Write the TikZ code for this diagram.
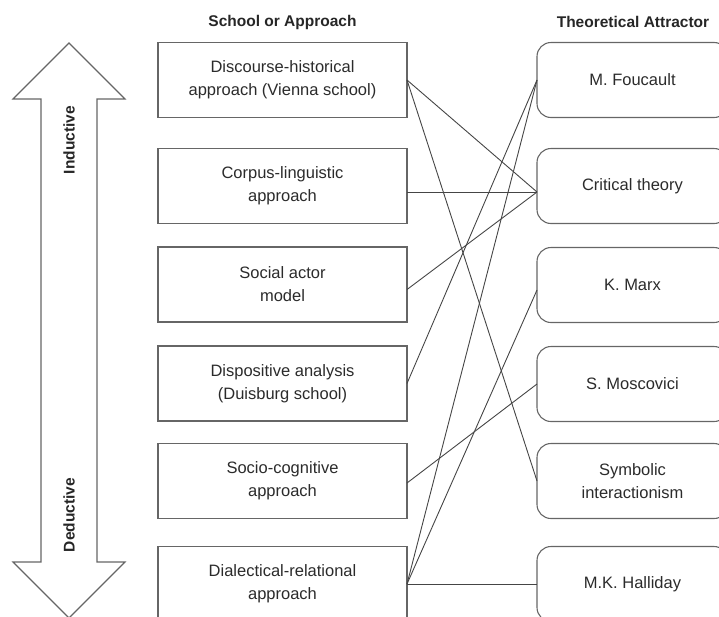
\documentclass[tikz,border=0pt]{standalone}
\usepackage{fontspec}
\setmainfont{Liberation Sans}
\definecolor{boxgray}{HTML}{666666}
\definecolor{linegray}{HTML}{454545}
\definecolor{textgray}{HTML}{2B2B2B}
\begin{document}
\begin{tikzpicture}[x=1pt,y=-1pt,
  box/.style={draw=boxgray, line width=1.1pt, minimum width=249pt, minimum height=75pt,
    inner sep=0pt, outer sep=0pt, align=center, text=textgray,
    font=\fontsize{16.5}{23}\selectfont},
  lbox/.style={box},
  rbox/.style={box, rounded corners=14pt, minimum width=191pt},
  head/.style={font=\fontsize{15.5}{18}\selectfont\bfseries, text=black!85},
  link/.style={draw=linegray, line width=0.9pt},
  dirlabel/.style={font=\fontsize{15.5}{18}\selectfont\bfseries, text=black!85, rotate=90}]
\useasboundingbox (0,0) rectangle (719,616);
\clip (0,0) rectangle (719,616);

% headers
\node[head] (h1) at (282.5,22) {School or Approach};
\node[head] (h2) at (633,22) {Theoretical Attractor};

% double arrow
\draw[draw=boxgray, line width=1.1pt, fill=white]
  (69,43) -- (125,99) -- (97,99) -- (97,562) -- (125,562) -- (69,618)
  -- (13,562) -- (41,562) -- (41,99) -- (13,99) -- cycle;
\node[dirlabel] (ind) at (69,140) {Inductive};
\node[dirlabel] (ded) at (69,515) {Deductive};

% left boxes
\node[lbox] (L1) at (282.5,80)  {Discourse-historical\\approach (Vienna school)};
\node[lbox] (L2) at (282.5,186) {Corpus-linguistic\\approach};
\node[lbox] (L3) at (282.5,284.5) {Social actor\\model};
\node[lbox] (L4) at (282.5,383.5) {Dispositive analysis\\(Duisburg school)};
\node[lbox] (L5) at (282.5,481) {Socio-cognitive\\approach};
\node[lbox] (L6) at (282.5,584) {Dialectical-relational\\approach};

% right boxes
\node[rbox] (R1) at (632.5,80)  {M. Foucault};
\node[rbox] (R2) at (632.5,186) {Critical theory};
\node[rbox] (R3) at (632.5,285) {K. Marx};
\node[rbox] (R4) at (632.5,384) {S. Moscovici};
\node[rbox] (R5) at (632.5,481) {Symbolic\\interactionism};
\node[rbox] (R6) at (632.5,584) {M.K. Halliday};

% connectors
\draw[link] (L1.east) -- ([yshift=-6pt]R2.west);
\draw[link] (L1.east) -- (R5.west);
\draw[link] ([yshift=-6pt]L2.east) -- ([yshift=-6pt]R2.west);
\draw[link] ([yshift=-5pt]L3.east) -- ([yshift=-6pt]R2.west);
\draw[link] (L4.east) -- (R1.west);
\draw[link] ([yshift=-2pt]L5.east) -- (R4.west);
\draw[link] (L6.east) -- (R1.west);
\draw[link] (L6.east) -- ([yshift=-5pt]R3.west);
\draw[link] (L6.east) -- (R6.west);
\end{tikzpicture}
\end{document}
